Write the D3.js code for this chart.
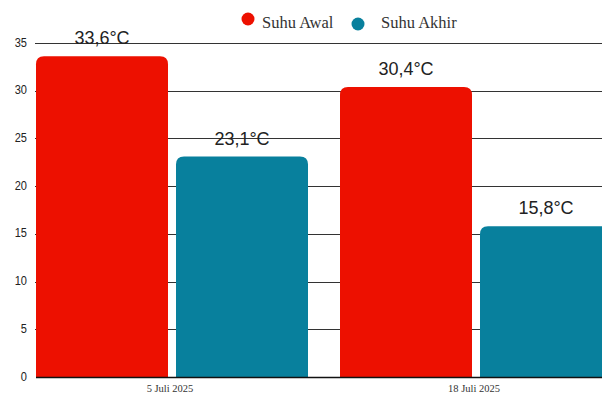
<!DOCTYPE html>
<html>
<head>
<meta charset="utf-8">
<script src="https://cdn.jsdelivr.net/npm/d3@7"></script>
<style>
  body { margin: 0; background: #fff; }
  svg { display: block; }
</style>
</head>
<body>
<svg class="chart"></svg>
<script>
const width = 602
const height = 396

const dates = ["5 Juli 2025", "18 Juli 2025"]
const seriesNames = ["Suhu Awal", "Suhu Akhir"]
const suhuAwal = [33.6, 30.4]
const suhuAkhir = [23.1, 15.8]
const yTicks = [0, 5, 10, 15, 20, 25, 30, 35]
const colors = ["#ed1000", "#08809d"]

const rows = []
dates.forEach((d, i) => {
    rows.push({ date: d, series: seriesNames[0], value: suhuAwal[i] })
    rows.push({ date: d, series: seriesNames[1], value: suhuAkhir[i] })
})

const svg = d3.select("svg.chart")
    .attr("width", width)
    .attr("height", height)

const x0 = d3.scaleBand()
    .domain(dates)
    .range([36, 612])
    .paddingInner(32 / 304)
    .paddingOuter(0)

const x1 = d3.scaleBand()
    .domain(seriesNames)
    .range([0, x0.bandwidth()])
    .paddingInner(8 / 140)
    .paddingOuter(0)

const y = d3.scaleLinear()
    .domain([0, 35])
    .range([377, 43])

const color = d3.scaleOrdinal().domain(seriesNames).range(colors)

// gridlines
svg.append("g")
    .selectAll("line")
    .data(yTicks.filter(t => t > 0))
    .join("line")
    .attr("x1", 35)
    .attr("x2", width)
    .attr("y1", d => Math.round(y(d)) + 0.5)
    .attr("y2", d => Math.round(y(d)) + 0.5)
    .attr("stroke", "#333")
    .attr("stroke-width", 1)

// y labels (narrow look)
svg.append("g")
    .selectAll("text")
    .data(yTicks)
    .join("text")
    .attr("transform", d => `translate(27,${y(d) + 3.5}) scale(0.85,1)`)
    .attr("text-anchor", "end")
    .attr("font-family", "Liberation Sans, Arial, sans-serif")
    .attr("font-size", 13)
    .attr("fill", "#222")
    .text(d => d)

// bars with rounded top corners
function topRounded(xp, yp, w, h, r) {
    return `M${xp},${yp + h}V${yp + r}Q${xp},${yp} ${xp + r},${yp}H${xp + w - r}Q${xp + w},${yp} ${xp + w},${yp + r}V${yp + h}Z`
}

const r = 8
svg.append("g")
    .selectAll("path")
    .data(rows)
    .join("path")
    .attr("fill", d => color(d.series))
    .attr("d", d => {
        const bx = x0(d.date) + x1(d.series)
        const by = y(d.value)
        return topRounded(bx, by, x1.bandwidth(), y(0) - by, r)
    })

// value labels
svg.append("g")
    .selectAll("text")
    .data(rows)
    .join("text")
    .attr("x", d => x0(d.date) + x1(d.series) + x1.bandwidth() / 2)
    .attr("y", d => y(d.value) - 12)
    .attr("text-anchor", "middle")
    .attr("font-family", "Liberation Sans, Arial, sans-serif")
    .attr("font-size", 18)
    .attr("fill", "#222")
    .text(d => d.value.toFixed(1).replace(".", ",") + "°C")

// baseline
svg.append("line")
    .attr("x1", 36)
    .attr("x2", width)
    .attr("y1", y(0) + 0.5)
    .attr("y2", y(0) + 0.5)
    .attr("stroke", "#111")
    .attr("stroke-width", 1.5)

// category labels
svg.append("g")
    .selectAll("text")
    .data(dates)
    .join("text")
    .attr("x", d => x0(d) + x0.bandwidth() / 2 - 2)
    .attr("y", 392)
    .attr("text-anchor", "middle")
    .attr("font-family", "Liberation Serif, Times New Roman, serif")
    .attr("font-size", 10.5)
    .attr("fill", "#333")
    .text(d => d)

// legend
const legend = [
    { name: seriesNames[0], cx: 248, cy: 19, tx: 262 },
    { name: seriesNames[1], cx: 358, cy: 24, tx: 381 }
]
const lg = svg.append("g")
lg.selectAll("circle")
    .data(legend)
    .join("circle")
    .attr("cx", d => d.cx)
    .attr("cy", d => d.cy)
    .attr("r", 6.5)
    .attr("fill", d => color(d.name))
lg.selectAll("text")
    .data(legend)
    .join("text")
    .attr("x", d => d.tx)
    .attr("y", 28)
    .attr("font-family", "Liberation Serif, Times New Roman, serif")
    .attr("font-size", 16.5)
    .attr("fill", "#333")
    .text(d => d.name)
</script>
</body>
</html>
